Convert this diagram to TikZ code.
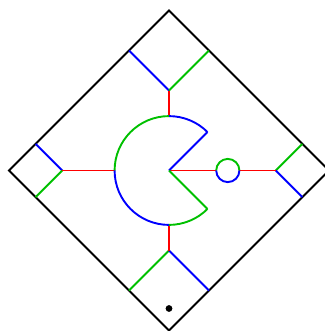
\documentclass[tikz,border=0pt]{standalone}
\usepackage{tikz}
\usetikzlibrary{positioning}
\definecolor{dkgreen}{RGB}{0,192,0}

\begin{document}
\begin{tikzpicture}[
        wall/.style={black, line width=1.35pt},
        link/.style={red, line width=1.35pt},
        blueside/.style={blue, line width=1.35pt},
        greenside/.style={dkgreen, line width=1.35pt},
        joint/.style={circle, inner sep=0pt, outer sep=0pt, minimum size=0.58cm}]

        \useasboundingbox (-4.225,-4.0125) rectangle (3.875,4.2625);

        % Outer diamond
        \coordinate (top) at (0,4);
        \coordinate (right) at (4,0);
        \coordinate (bottom) at (0,-4);
        \coordinate (left) at (-4,0);
        \draw[wall] (top) -- (right) -- (bottom) -- (left) -- cycle;

        % Notch points and their corners on the diamond
        \coordinate (nTop) at (0,2);
        \coordinate (nTopL) at (-1,3);
        \coordinate (nTopR) at (1,3);
        \coordinate (nBot) at (0,-2);
        \coordinate (nBotL) at (-1,-3);
        \coordinate (nBotR) at (1,-3);
        \coordinate (nLeft) at (-8/3,0);
        \coordinate (nLeftU) at (-10/3,2/3);
        \coordinate (nLeftD) at (-10/3,-2/3);
        \coordinate (nRight) at (8/3,0);
        \coordinate (nRightU) at (10/3,2/3);
        \coordinate (nRightD) at (10/3,-2/3);

        \draw[blueside] (nTop) -- (nTopL);
        \draw[greenside] (nTop) -- (nTopR);
        \draw[greenside] (nBot) -- (nBotL);
        \draw[blueside] (nBot) -- (nBotR);
        \draw[blueside] (nLeft) -- (nLeftU);
        \draw[greenside] (nLeft) -- (nLeftD);
        \draw[greenside] (nRight) -- (nRightU);
        \draw[blueside] (nRight) -- (nRightD);

        % Pac-man in the middle
        \coordinate (c) at (0,0);
        \coordinate (pTop) at (90:1.36);
        \coordinate (pLeft) at (180:1.36);
        \coordinate (pBot) at (270:1.36);
        \coordinate (mouthU) at (45:1.36);
        \coordinate (mouthD) at (-45:1.36);

        % Red links
        \node[joint] (ring) at (1.47,0) {};
        \draw[link] (c) -- (ring.west);
        \draw[link] (ring.east) -- (nRight);
        \draw[link] (pLeft) -- (nLeft);
        \draw[link] (pTop) -- (nTop);
        \draw[link] (pBot) -- (nBot);

        \draw[blueside] (mouthU) arc (45:90:1.36);
        \draw[greenside] (pTop) arc (90:180:1.36);
        \draw[blueside] (pLeft) arc (180:270:1.36);
        \draw[greenside] (pBot) arc (270:315:1.36);
        \draw[blueside] (c) -- (mouthU);
        \draw[greenside] (c) -- (mouthD);

        % Small ring on the right link
        \draw[greenside] (ring.east) arc (0:180:0.29);
        \draw[blueside] (ring.west) arc (180:360:0.29);

        % Dot near the bottom
        \node[circle, fill, inner sep=0pt, minimum size=0.17cm] (dot) at (0,-3.45) {};
\end{tikzpicture}
\end{document}
